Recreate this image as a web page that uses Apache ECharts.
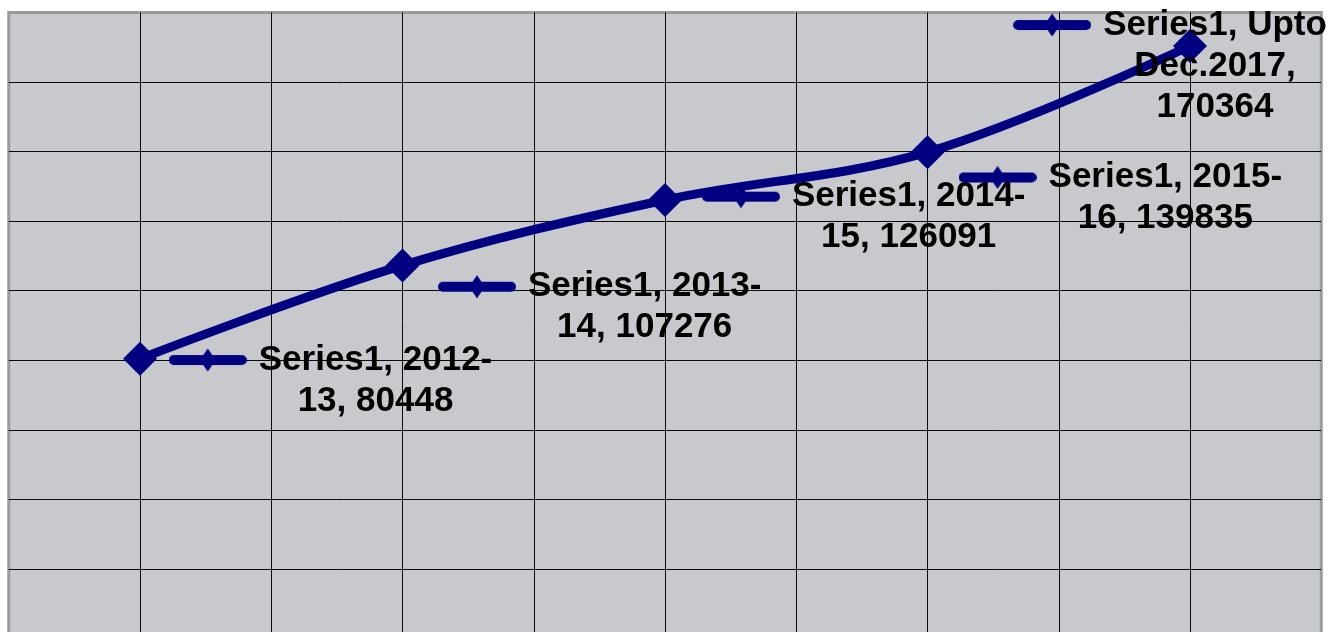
<!DOCTYPE html>
<html><head><meta charset="utf-8">
<script src="https://cdn.jsdelivr.net/npm/echarts@6/dist/echarts.min.js"></script>
<style>html,body{margin:0;padding:0;background:#fff}#c{width:1333px;height:632px}</style>
</head><body><div id="c"></div><script>
// ---- data ----
const seriesName = 'Series1';
const categories = ['2012-13', '2013-14', '2014-15', '2015-16', 'Upto Dec.2017'];
const xPositions = [1, 2, 3, 4, 5];
const values = [80448, 107276, 126091, 139835, 170364];
const yMin = 0, yMax = 180000, yStep = 20000;
const xMin = 0.5, xMax = 5.5, xStep = 0.5;

// ---- label placement (style, not data) ----
const labelOffsets = [[235.5, -19.2], [242.2, 0.8], [243.7, -23.8], [237.8, 4.8], [25, -41.5]];

const NAVY = '#000080';
const FONT_FAMILY = '"Liberation Sans", Arial, sans-serif';
const mctx = document.createElement('canvas').getContext('2d');
mctx.font = 'bold 35px ' + FONT_FAMILY;
function wrap(str, maxW) {
  const pieces = str.split(/(?<=[\s-])/);
  const lines = [];
  let line = '';
  for (const p of pieces) {
    const cand = (line + p).trimEnd();
    if (line && mctx.measureText(cand).width > maxW) {
      lines.push(line.trimEnd());
      line = p;
    } else {
      line += p;
    }
  }
  if (line.trim()) lines.push(line.trimEnd());
  return lines;
}

// legend key glyph (line with diamond)
const keyCanvas = document.createElement('canvas');
keyCanvas.width = 78; keyCanvas.height = 24;
(function () {
  const c = keyCanvas.getContext('2d');
  c.strokeStyle = NAVY; c.fillStyle = NAVY;
  c.lineWidth = 10; c.lineCap = 'round';
  c.beginPath(); c.moveTo(5, 12); c.lineTo(73, 12); c.stroke();
  c.beginPath(); c.moveTo(39, 0.5); c.lineTo(47, 12); c.lineTo(39, 23.5); c.lineTo(31, 12); c.closePath(); c.fill();
})();

const chart = echarts.init(document.getElementById('c'), null, {renderer: 'canvas'});
chart.setOption({
  animation: false,
  backgroundColor: '#ffffff',
  grid: {
    left: 8.75, top: 12.5, width: 1312.5, height: 626,
    outerBoundsMode: 'none', containLabel: false,
    show: true, backgroundColor: '#c8c9cc', borderColor: '#9a9a9a', borderWidth: 3
  },
  xAxis: {
    type: 'value', min: xMin, max: xMax, interval: xStep,
    axisLine: {show: false}, axisTick: {show: false}, axisLabel: {show: false},
    splitLine: {show: true, showMinLine: false, showMaxLine: false, lineStyle: {color: '#0a0a0a', width: 1}}
  },
  yAxis: {
    type: 'value', min: yMin, max: yMax, interval: yStep,
    axisLine: {show: false}, axisTick: {show: false}, axisLabel: {show: false},
    splitLine: {show: true, showMinLine: false, showMaxLine: false, lineStyle: {color: '#0a0a0a', width: 1}}
  },
  series: [{
    type: 'line',
    name: seriesName,
    smooth: 0.35,
    symbol: 'diamond',
    symbolSize: 34,
    lineStyle: {color: NAVY, width: 9},
    itemStyle: {color: NAVY},
    data: values.map((v, i) => ({value: [xPositions[i], v], label: {offset: labelOffsets[i]}})),
    label: {
      show: true,
      position: 'inside',
      align: 'center',
      verticalAlign: 'top',
      fontSize: 35, fontWeight: 'bold', fontFamily: FONT_FAMILY, color: '#000', lineHeight: 41,
      formatter: p => {
        const lines = wrap(`${seriesName}, ${categories[p.dataIndex]}, ${values[p.dataIndex]}`, 245);
        return lines.map((l, i) => i === 0 ? `{k|}{g|}{t|${l}}{s|}` : `{t|${l}}`).join('\n');
      },
      rich: {
        k: {width: 78, height: 24, backgroundColor: {image: keyCanvas}},
        g: {width: 12},
        s: {width: 90},
        t: {fontSize: 35, fontWeight: 'bold', fontFamily: FONT_FAMILY, color: '#000', lineHeight: 41}
      }
    }
  }]
});
</script></body></html>
